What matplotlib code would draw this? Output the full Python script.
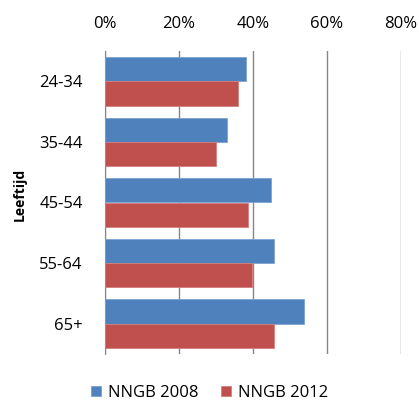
import numpy as np
from matplotlib import pyplot as plt
from matplotlib.ticker import PercentFormatter

plt.rcParams['font.family'] = ['Open Sans', 'DejaVu Sans']

categories = ["24-34", "35-44", "45-54", "55-64", "65+"]
nngb_2008 = [0.38, 0.33, 0.45, 0.457, 0.538]
nngb_2012 = [0.36, 0.30, 0.387, 0.398, 0.456]

fig = plt.figure(figsize=(4.19, 4.05), dpi=100)
ax = fig.add_axes([0.2506, 0.126, 0.957 - 0.2506, 0.874 - 0.126])

y = np.arange(len(categories))
h = 0.4
ax.barh(y - h / 2, nngb_2008, height=h, color="#4F81BD", edgecolor="#7DA2D0",
        linewidth=0.6, label="NNGB 2008", zorder=3)
ax.barh(y + h / 2, nngb_2012, height=h, color="#C0504D", edgecolor="#D27E7C",
        linewidth=0.6, label="NNGB 2012", zorder=3)

ax.set_xlim(0, 0.8)
ax.set_ylim(len(categories) - 0.5, -0.5)
ax.set_xticks([0, 0.2, 0.4, 0.6, 0.8])
ax.xaxis.set_major_formatter(PercentFormatter(1.0, decimals=0))
ax.xaxis.tick_top()
ax.tick_params(axis="x", length=0, pad=14, labelsize=12)
ax.set_yticks(y)
ax.set_yticklabels(categories)
ax.tick_params(axis="y", length=0, pad=16, labelsize=12)

ax.grid(axis="x", color="#868686", linewidth=1.0, zorder=0)
for s in ["top", "right", "bottom"]:
    ax.spines[s].set_visible(False)
ax.spines["left"].set_color("#868686")

ax.set_ylabel("Leeftijd", fontweight="bold", fontsize=10)
ax.yaxis.set_label_coords(-0.265, 0.528)

fig.legend(loc="center", bbox_to_anchor=(0.5, 0.03), ncol=2, frameon=False,
           fontsize=12, handlelength=0.6, handleheight=0.6, columnspacing=1.4,
           handletextpad=0.4)

fig.savefig("out.png", dpi=100)
